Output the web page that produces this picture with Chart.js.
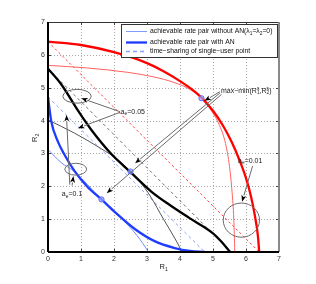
<!DOCTYPE html>
<html><head><meta charset="utf-8">
<script src="https://cdn.jsdelivr.net/npm/chart.js@4.4.0/dist/chart.umd.min.js"></script>
<style>html,body{margin:0;padding:0;background:#fff;}canvas{display:block;}</style>
</head><body>
<canvas id="c" width="316" height="284"></canvas>
<script>
// ---------- data (R1, R2 pairs) ----------
const xTickValues = [0,1,2,3,4,5,6,7];
const yTickValues = [0,1,2,3,4,5,6,7];

// a_e = 0.01 (red)
const redAN_R1   = [0,1,2,3,3.5,4,4.4,4.65,5.0,5.3,5.56,5.8,6.0,6.15,6.27,6.36,6.4];
const redAN_R2   = [6.4,6.3,6.08,5.75,5.5,5.2,4.92,4.7,4.3,3.85,3.36,2.8,2.25,1.7,1.1,0.5,0];
const redNoAN_R1 = [0,1.2,2.4,3.2,3.85,4.3,4.65,4.95,5.2,5.38,5.5,5.58,5.63,5.66];
const redNoAN_R2 = [5.68,5.6,5.47,5.33,5.15,4.95,4.68,4.3,3.85,3.3,2.6,1.8,1.0,0];
const redTS_R1   = [0,6.4];
const redTS_R2   = [6.4,0];

// a_e = 0.05 (black)
const blkAN_R1   = [0,0.41,0.91,1.31,1.92,2.5,3.13,3.69,4.29,5.0,5.25,5.52];
const blkAN_R2   = [5.58,5.09,4.3,3.72,2.98,2.43,1.84,1.43,1.03,0.57,0.32,0];
const blkNoAN_R1 = [0,0.8,1.62,2.1,2.5,2.8,3.1,3.5,3.84,4.0,4.05];
const blkNoAN_R2 = [4.02,3.62,3.14,2.82,2.45,2.12,1.7,1.0,0.42,0.12,0];
const blkTS_R1   = [0,5.55];
const blkTS_R2   = [5.58,0];

// a_e = 0.1 (blue)
const bluAN_R1   = [0,0.1,0.3,0.5,0.8,1.2,1.62,2.02,2.63,3.23,3.84,4.3,4.75];
const bluAN_R2   = [4.72,3.97,3.36,2.96,2.47,1.98,1.6,1.22,0.7,0.33,0.12,0.03,0];
const bluNoAN_R1 = [0,0.4,0.8,1.2,1.62,2.2,2.7,3.05];
const bluNoAN_R2 = [3.12,2.72,2.45,2.05,1.6,1.05,0.5,0];
const bluTS_R1   = [0,4.75];
const bluTS_R2   = [4.72,0];

// max-min points
const maxMin_R1 = [4.65,2.5,1.62];
const maxMin_R2 = [4.68,2.45,1.6];

const legendLabels = ['achievable rate pair without AN', 'achievable rate pair with AN', 'time\u2212sharing of single\u2212user point'];

// ---------- helpers ----------
const pts = (xs, ys) => xs.map((v, i) => ({x: v, y: ys[i]}));
const FAM = "'Liberation Sans', Arial, Helvetica, sans-serif";

function line(xs, ys, color, width, dash, order) {
  return {data: pts(xs, ys), showLine: true, borderColor: color, backgroundColor: color,
    borderWidth: width, borderDash: dash || [], pointRadius: 0, pointHoverRadius: 0,
    cubicInterpolationMode: 'monotone', fill: false, order: order};
}

const datasets = [
  {data: pts(maxMin_R1, maxMin_R2), showLine: false, pointRadius: 2.6, pointBorderWidth: 1,
   pointBorderColor: '#5a6cff', pointBackgroundColor: 'rgba(160,170,255,0.7)', order: 0},
  line(redAN_R1, redAN_R2, '#ff0000', 2.3, null, 1),
  line(blkAN_R1, blkAN_R2, '#000000', 2.3, null, 1),
  line(bluAN_R1, bluAN_R2, '#1e3cff', 2.3, null, 1),
  line(redNoAN_R1, redNoAN_R2, '#ff6060', 1, null, 2),
  line(blkNoAN_R1, blkNoAN_R2, '#555555', 1, null, 2),
  line(bluNoAN_R1, bluNoAN_R2, '#6f8cff', 1, null, 2),
  line(redTS_R1, redTS_R2, '#ff4040', 1, [2.5,2.5], 3),
  line(blkTS_R1, blkTS_R2, '#707070', 1, [3,3], 3),
  line(bluTS_R1, bluTS_R2, '#86a0ff', 1, [3,3], 3)
];

// rich text with sub/superscripts: parts = [[text, kind]] kind: 'n','sub','sup','subsup'
function richText(ctx, parts, x, y, size) {
  let cx = x;
  for (const p of parts) {
    const t = p[0], k = p[1] || 'n';
    if (k === 'n') {
      ctx.font = size + 'px ' + FAM; ctx.fillText(t, cx, y); cx += ctx.measureText(t).width;
    } else if (k === 'sub') {
      ctx.font = (size * 0.7) + 'px ' + FAM; ctx.fillText(t, cx, y + size * 0.3); cx += ctx.measureText(t).width;
    } else if (k === 'sup') {
      ctx.font = (size * 0.7) + 'px ' + FAM; ctx.fillText(t, cx, y - size * 0.35); cx += ctx.measureText(t).width;
    } else if (k === 'subsup') {
      ctx.font = (size * 0.7) + 'px ' + FAM;
      ctx.fillText(t[0], cx, y + size * 0.3);
      ctx.fillText(t[1], cx, y - size * 0.35);
      cx += Math.max(ctx.measureText(t[0]).width, ctx.measureText(t[1]).width);
    }
  }
  return cx - x;
}

function arrow(ctx, x0, y0, x1, y1) {
  const ang = Math.atan2(y1 - y0, x1 - x0), L = 6.5, W = 2.5;
  const bx = x1 - L * Math.cos(ang), by = y1 - L * Math.sin(ang);
  ctx.strokeStyle = '#6a6a6a'; ctx.lineWidth = 1; ctx.setLineDash([]);
  ctx.beginPath(); ctx.moveTo(x0, y0); ctx.lineTo(bx, by); ctx.stroke();
  ctx.fillStyle = '#000';
  ctx.beginPath(); ctx.moveTo(x1, y1);
  ctx.lineTo(bx + W * Math.sin(ang), by - W * Math.cos(ang));
  ctx.lineTo(bx + 0.25 * L * Math.cos(ang), by + 0.25 * L * Math.sin(ang));
  ctx.lineTo(bx - W * Math.sin(ang), by + W * Math.cos(ang));
  ctx.closePath(); ctx.fill();
}

// annotation positions in data units (R1, R2)
const ellipses = [ // center R1, center R2, half-width R1, half-height R2
  [0.88, 4.74, 0.43, 0.21],
  [0.84, 2.52, 0.33, 0.18],
  [5.86, 0.97, 0.55, 0.52]
];
const arrows = [ // from (R1,R2) to (R1,R2)
  [2.18, 4.27, 1.01, 4.68], [2.18, 4.25, 0.91, 3.77],
  [0.73, 2.02, 0.77, 2.31], [0.66, 2.05, 0.56, 4.17],
  [6.2, 2.62, 5.88, 1.53],
  [5.21, 4.88, 4.74, 4.6], [5.21, 4.84, 2.64, 2.7], [5.26, 4.8, 1.78, 1.79]
];

const annot = {
  id: 'annot',
  beforeDatasetsDraw(chart) {
    const {ctx, chartArea: a, scales: {x, y}} = chart;
    ctx.save();
    // dotted grid
    ctx.strokeStyle = '#a8a8a8'; ctx.lineWidth = 1; ctx.setLineDash([1, 2]);
    for (const v of xTickValues.slice(1, -1)) {
      const px = Math.round(x.getPixelForValue(v)) + 0.5;
      ctx.beginPath(); ctx.moveTo(px, a.bottom); ctx.lineTo(px, a.top); ctx.stroke();
    }
    for (const v of yTickValues.slice(1, -1)) {
      const py = Math.round(y.getPixelForValue(v)) + 0.5;
      ctx.beginPath(); ctx.moveTo(a.left, py); ctx.lineTo(a.right, py); ctx.stroke();
    }
    ctx.setLineDash([]);
    // inward ticks
    ctx.strokeStyle = '#444'; ctx.lineWidth = 1;
    for (const v of xTickValues) {
      const px = Math.round(x.getPixelForValue(v)) + 0.5;
      ctx.beginPath(); ctx.moveTo(px, a.bottom); ctx.lineTo(px, a.bottom - 3);
      ctx.moveTo(px, a.top); ctx.lineTo(px, a.top + 3); ctx.stroke();
    }
    for (const v of yTickValues) {
      const py = Math.round(y.getPixelForValue(v)) + 0.5;
      ctx.beginPath(); ctx.moveTo(a.left, py); ctx.lineTo(a.left + 3, py);
      ctx.moveTo(a.right, py); ctx.lineTo(a.right - 3, py); ctx.stroke();
    }
    ctx.restore();
  },
  afterDatasetsDraw(chart) {
    const {ctx, chartArea: a, scales: {x, y}} = chart;
    const X = v => x.getPixelForValue(v), Y = v => y.getPixelForValue(v);
    ctx.save();
    // frame top/right
    ctx.lineWidth = 1; ctx.strokeStyle = '#333';
    ctx.beginPath(); ctx.moveTo(a.left, a.top + 0.5); ctx.lineTo(a.right, a.top + 0.5); ctx.stroke();
    ctx.lineWidth = 2; ctx.strokeStyle = '#8a8a8a';
    ctx.beginPath(); ctx.moveTo(a.right, a.top); ctx.lineTo(a.right, a.bottom); ctx.stroke();
    ctx.lineWidth = 2; ctx.strokeStyle = '#000';
    ctx.beginPath(); ctx.moveTo(a.left, a.bottom); ctx.lineTo(a.right, a.bottom); ctx.stroke();
    ctx.beginPath(); ctx.moveTo(a.left, a.top); ctx.lineTo(a.left, a.bottom); ctx.stroke();

    // ellipses
    ctx.strokeStyle = '#6a6a6a'; ctx.lineWidth = 1;
    for (const e of ellipses) {
      const cx = X(e[0]), cy = Y(e[1]);
      const rx = Math.abs(X(e[0] + e[2]) - cx), ry = Math.abs(Y(e[1] + e[3]) - cy);
      ctx.beginPath(); ctx.ellipse(cx, cy, rx, ry, 0, 0, Math.PI * 2); ctx.stroke();
    }
    for (const r of arrows) arrow(ctx, X(r[0]), Y(r[1]), X(r[2]), Y(r[3]));

    // annotation texts
    ctx.fillStyle = '#222'; ctx.textBaseline = 'middle'; ctx.textAlign = 'left';
    richText(ctx, [['a'], ['e', 'sub'], ['=0.05']], X(2.2), Y(4.27), 7);
    richText(ctx, [['a'], ['e', 'sub'], ['=0.1']], X(0.42), Y(1.75), 7);
    richText(ctx, [['a'], ['e', 'sub'], ['=0.01']], X(5.76), Y(2.78), 7);
    richText(ctx, [['max\u2212min(R'], [['1', 's'], 'subsup'], [',R'], [['2', 's'], 'subsup'], [')']], X(5.24), Y(4.9), 7);

    // legend box
    const lx0 = a.right - 158, ly0 = a.top + 2, lx1 = a.right - 2, ly1 = a.top + 35;
    ctx.fillStyle = '#fff'; ctx.fillRect(lx0, ly0, lx1 - lx0, ly1 - ly0);
    ctx.strokeStyle = '#333'; ctx.lineWidth = 1;
    ctx.strokeRect(Math.round(lx0) + 0.5, Math.round(ly0) + 0.5, Math.round(lx1 - lx0), Math.round(ly1 - ly0));
    const rows = [ly0 + 7.5, ly0 + 18.5, ly0 + 27.5];
    const samples = [['#7f9cff', 1, []], ['#1e3cff', 2.3, []], ['#86a0ff', 1.3, [4, 3]]];
    for (let i = 0; i < 3; i++) {
      ctx.strokeStyle = samples[i][0]; ctx.lineWidth = samples[i][1]; ctx.setLineDash(samples[i][2]);
      ctx.beginPath(); ctx.moveTo(lx0 + 5, rows[i]); ctx.lineTo(lx0 + 26, rows[i]); ctx.stroke();
    }
    ctx.setLineDash([]);
    ctx.fillStyle = '#111'; ctx.textBaseline = 'middle';
    richText(ctx, [[legendLabels[0] + '(\u03bb'], ['1', 'sub'], ['=\u03bb'], ['2', 'sub'], ['=0)']], lx0 + 29, rows[0], 6.8);
    richText(ctx, [[legendLabels[1]]], lx0 + 29, rows[1], 6.8);
    richText(ctx, [[legendLabels[2]]], lx0 + 29, rows[2], 6.8);

    // axis titles
    ctx.fillStyle = '#222';
    richText(ctx, [['R'], ['1', 'sub']], (a.left + a.right) / 2 - 4, a.bottom + 15, 7.5);
    ctx.translate(a.left - 13, (a.top + a.bottom) / 2 + 5);
    ctx.rotate(-Math.PI / 2);
    richText(ctx, [['R'], ['2', 'sub']], 0, 0, 7.5);
    ctx.restore();
  }
};

new Chart(document.getElementById('c'), {
  type: 'scatter',
  data: {datasets: datasets},
  options: {
    responsive: false, animation: false, devicePixelRatio: 1,
    layout: {padding: {left: 0, right: 37, top: 22, bottom: 0}},
    plugins: {legend: {display: false}, tooltip: {enabled: false}},
    scales: {
      x: {type: 'linear', min: 0, max: 7,
          afterFit(s) { s.height = 32; },
          afterBuildTicks(s) { s.ticks = xTickValues.map(v => ({value: v})); },
          ticks: {color: '#333', font: {size: 7, family: FAM}, padding: 3, maxRotation: 0},
          grid: {display: false, drawTicks: false},
          border: {display: false}},
      y: {type: 'linear', min: 0, max: 7,
          afterFit(s) { s.width = 48; },
          afterBuildTicks(s) { s.ticks = yTickValues.map(v => ({value: v})); },
          ticks: {color: '#333', font: {size: 7, family: FAM}, padding: 3},
          grid: {display: false, drawTicks: false},
          border: {display: false}}
    }
  },
  plugins: [annot]
});
</script>
</body></html>
